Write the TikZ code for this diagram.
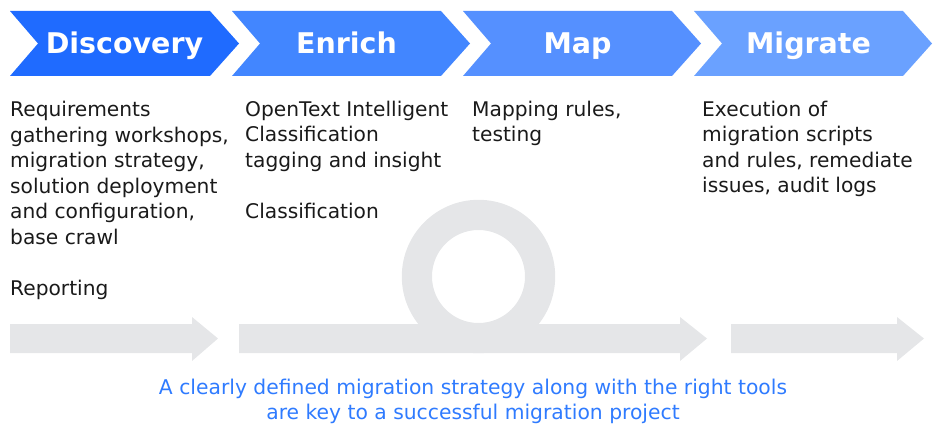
\documentclass[tikz,border=0pt]{standalone}
\usepackage{fontspec}
\setmainfont{DejaVu Sans}
\definecolor{cDisc}{HTML}{1F6BFF}
\definecolor{cEnr}{HTML}{4286FF}
\definecolor{cMap}{HTML}{5590FF}
\definecolor{cMig}{HTML}{6AA1FF}
\definecolor{ltgray}{HTML}{E5E6E8}
\definecolor{bodytxt}{HTML}{1A1A1A}
\definecolor{bluetxt}{HTML}{2F7BFF}
\begin{document}
\begin{tikzpicture}[x=1pt,y=-1pt,
  title/.style={text=white,font=\fontsize{28.5}{34}\selectfont\bfseries,inner sep=0,anchor=base},
  body/.style={font=\fontsize{20.2}{25.5}\selectfont,text=bodytxt,align=left,anchor=north west,inner sep=0},
  note/.style={font=\fontsize{20.3}{25}\selectfont,text=bluetxt,align=center,anchor=north,inner sep=0},
  grayfill/.style={fill=ltgray},
]
\useasboundingbox (0,0) rectangle (939,425);
% chevrons
\fill[cDisc] (10,11) -- (210,11) -- (239,43.5) -- (210,76) -- (10,76) -- (38,43.5) -- cycle;
\fill[cEnr] (232,11) -- (441,11) -- (470,43.5) -- (441,76) -- (232,76) -- (260,43.5) -- cycle;
\fill[cMap] (463,11) -- (672,11) -- (701,43.5) -- (672,76) -- (463,76) -- (491,43.5) -- cycle;
\fill[cMig] (694,11) -- (903,11) -- (932,43.5) -- (903,76) -- (694,76) -- (722,43.5) -- cycle;
\node[title] (tDisc) at (124.5,54) {Discovery};
\node[title] (tEnr) at (346.5,54) {Enrich};
\node[title] (tMap) at (577.5,54) {Map};
\node[title] (tMig) at (808.5,54) {Migrate};
% body texts
\node[body] (bDisc) at (10,101) {Requirements\\gathering workshops,\\migration strategy,\\solution deployment\\and configuration,\\base crawl\\[25.5pt]Reporting};
\node[body] (bEnr) at (245,100.5) {OpenText Intelligent\\Classification\\tagging and insight\\[25.5pt]Classification};
\node[body] (bMap) at (472,100.5) {Mapping rules,\\testing};
\node[body] (bMig) at (702,100.5) {Execution of\\migration scripts\\and rules, remediate\\issues, audit logs};
% loop
\fill[ltgray,even odd rule] (478.5,276.5) circle[radius=76.7] (478.5,276.5) circle[radius=46.5];
% gray arrows
\fill[ltgray] (10,324) -- (192,324) -- (192,317) -- (218,338.5) -- (192,361) -- (192,353) -- (10,353) -- cycle;
\fill[ltgray] (239,324) -- (680,324) -- (680,317) -- (707,338.5) -- (680,361) -- (680,353) -- (239,353) -- cycle;
\fill[ltgray] (731,324) -- (897,324) -- (897,317) -- (924,338.5) -- (897,361) -- (897,353) -- (731,353) -- cycle;
% bottom note
\node[note] (nB) at (473,378.5) {A clearly defined migration strategy along with the right tools\\are key to a successful migration project};
\end{tikzpicture}
\end{document}
